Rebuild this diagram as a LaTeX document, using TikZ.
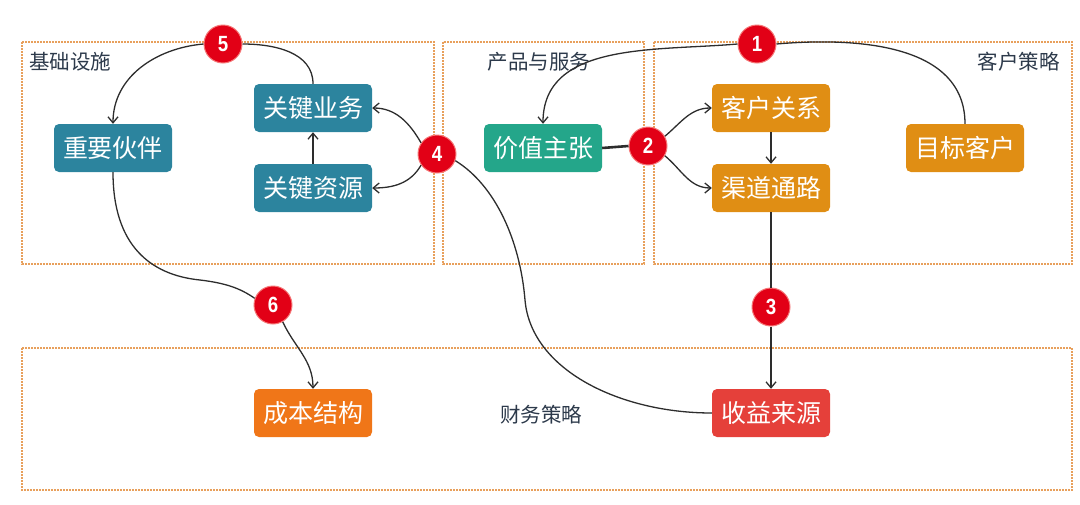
\documentclass[tikz,border=0pt]{standalone}
\usepackage{fontspec}
\usepackage{graphicx}
\setmainfont{Noto Sans CJK SC}
\newfontfamily\numfont{Liberation Sans}
\usetikzlibrary{arrows.meta}
\definecolor{tealb}{RGB}{44,132,158}
\definecolor{greenb}{RGB}{36,166,138}
\definecolor{goldb}{RGB}{224,142,20}
\definecolor{orangeb}{RGB}{240,118,24}
\definecolor{redb}{RGB}{229,64,58}
\definecolor{badge}{RGB}{226,0,22}
\definecolor{badgeedge}{RGB}{245,120,120}
\definecolor{frame}{RGB}{232,160,92}
\definecolor{lbl}{RGB}{45,58,75}
\definecolor{wire}{RGB}{45,45,45}
\begin{document}
\begin{tikzpicture}[x=1pt,y=-1pt,
  region/.style={draw=frame,line width=1.6pt,dash pattern=on 1.6pt off 1.4pt},
  box/.style={rounded corners=5pt,minimum width=118pt,minimum height=48pt,inner sep=0pt,text=white,font=\fontsize{25}{25}\selectfont},
  badgenode/.style={circle,fill=badge,draw=badgeedge,line width=1pt,minimum size=38pt,inner sep=0pt,text=white,font=\numfont\bfseries\fontsize{22}{22}\selectfont},
  regionlabel/.style={text=lbl,font=\fontsize{20.5}{20.5}\selectfont,inner sep=0pt},
  wire/.style={draw=wire,line width=1.3pt},
  arr/.style={wire,-{Straight Barb[length=6pt,width=10pt,line width=1.3pt]}}
]
\useasboundingbox (0,0) rectangle (1080,504);
% regions
\draw[region] (22,42) rectangle (434,264);
\draw[region] (443,42) rectangle (644,264);
\draw[region] (654,42) rectangle (1072,264);
\draw[region] (22,348) rectangle (1072,490);
\node[regionlabel,anchor=west] (l1) at (29,62) {基础设施};
\node[regionlabel] (l2) at (539,62) {产品与服务};
\node[regionlabel,anchor=east] (l3) at (1060,62) {客户策略};
\node[regionlabel] (l4) at (541,415) {财务策略};
% boxes
\node[box,fill=tealb] (zy) at (113,148) {重要伙伴};
\node[box,fill=tealb] (kb) at (313,108) {关键业务};
\node[box,fill=tealb] (kz) at (313,188) {关键资源};
\node[box,fill=greenb] (jz) at (543,148) {价值主张};
\node[box,fill=goldb] (kg) at (771,108) {客户关系};
\node[box,fill=goldb] (qd) at (771,188) {渠道通路};
\node[box,fill=goldb] (mb) at (965,148) {目标客户};
\node[box,fill=orangeb] (cb) at (313,413) {成本结构};
\node[box,fill=redb] (sy) at (771,413) {收益来源};
% badges
\node[badgenode] (c1) at (757,44) {\scalebox{0.85}[1]{1}};
\node[badgenode] (c2) at (648,146) {\scalebox{0.85}[1]{2}};
\node[badgenode] (c3) at (771,307) {\scalebox{0.85}[1]{3}};
\node[badgenode] (c4) at (437,154) {\scalebox{0.85}[1]{4}};
\node[badgenode] (c5) at (223,44) {\scalebox{0.85}[1]{5}};
\node[badgenode] (c6) at (273,305) {\scalebox{0.85}[1]{6}};
% connectors
\draw[wire] (mb.north) to[out=90,in=5] (c1.east);
\draw[arr] (c1.west) to[out=185,in=90] (jz.north);
\draw[wire,line width=2.6pt] (jz.east) -- (c2.west);
\draw[arr] (c2.30) to[out=40,in=180] (kg.west);
\draw[arr] (c2.-30) to[out=-40,in=180] (qd.west);
\draw[arr] (kg.south) -- (qd.north);
\draw[wire] (qd.south) -- (c3.north);
\draw[arr] (c3.south) -- (sy.north);
\draw[wire] (c4.-20) .. controls (495,185) and (520,240) .. (525,300)
  .. controls (531,370) and (620,413) .. (sy.west);
\draw[arr] (c4.145) to[out=120,in=0] (kb.east);
\draw[arr] (c4.215) to[out=240,in=0] (kz.east);
\draw[arr] (kz.north) -- (kb.south);
\draw[wire] (kb.north) to[out=90,in=0] (c5.east);
\draw[arr] (c5.west) to[out=185,in=90] (zy.north);
\draw[wire] (zy.south) .. controls (113,245) and (150,275) .. (200,280)
  .. controls (225,283) and (240,288) .. (c6.160);
\draw[arr] (c6.-60) to[out=-65,in=90] (cb.north);
\end{tikzpicture}
\end{document}
